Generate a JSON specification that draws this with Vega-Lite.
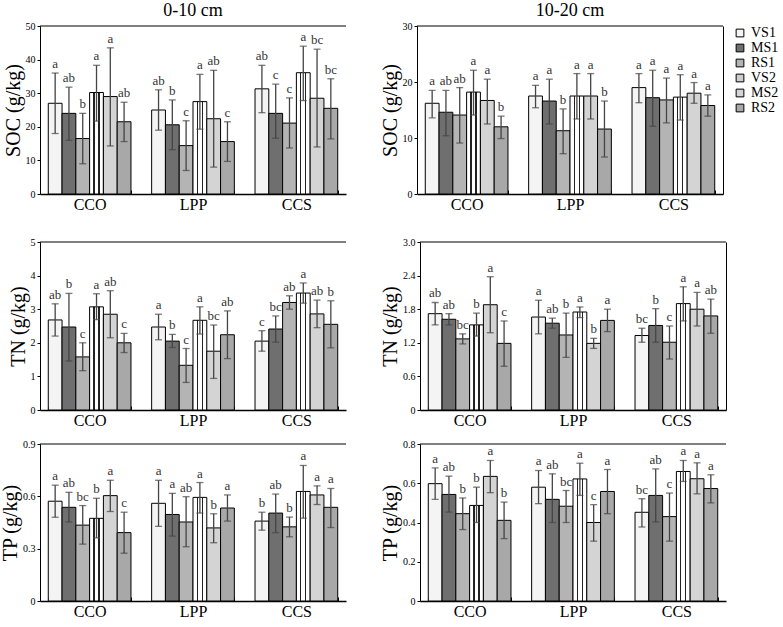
{
  "$schema": "https://vega.github.io/schema/vega-lite/v6.json",
  "padding": {"left": 0, "top": 2, "right": 0, "bottom": 0},
  "datasets": {
    "soc1": [
      {"g":"CCO","t":"VS1","m":27,"lo":18,"hi":36,"l":"a"},
      {"g":"CCO","t":"MS1","m":24,"lo":16,"hi":31.8,"l":"ab"},
      {"g":"CCO","t":"RS1","m":16.5,"lo":9,"hi":24,"l":"b"},
      {"g":"CCO","t":"VS2","m":30.2,"lo":21.7,"hi":38.3,"l":"a"},
      {"g":"CCO","t":"MS2","m":29,"lo":14.3,"hi":43.5,"l":"a"},
      {"g":"CCO","t":"RS2","m":21.5,"lo":15.6,"hi":27.3,"l":"ab"},
      {"g":"LPP","t":"VS1","m":25,"lo":19,"hi":31,"l":"ab"},
      {"g":"LPP","t":"MS1","m":20.6,"lo":13.2,"hi":28,"l":"b"},
      {"g":"LPP","t":"RS1","m":14.4,"lo":7,"hi":21.8,"l":"c"},
      {"g":"LPP","t":"VS2","m":27.5,"lo":19.3,"hi":35.6,"l":"a"},
      {"g":"LPP","t":"MS2","m":22.4,"lo":8,"hi":36.8,"l":"ab"},
      {"g":"LPP","t":"RS2","m":15.6,"lo":9.7,"hi":21.5,"l":"c"},
      {"g":"CCS","t":"VS1","m":31.3,"lo":24.2,"hi":38.3,"l":"ab"},
      {"g":"CCS","t":"MS1","m":24,"lo":16.6,"hi":32.7,"l":"c"},
      {"g":"CCS","t":"RS1","m":21.1,"lo":13.7,"hi":28.6,"l":"c"},
      {"g":"CCS","t":"VS2","m":36.1,"lo":27.8,"hi":44,"l":"a"},
      {"g":"CCS","t":"MS2","m":28.5,"lo":14,"hi":43.1,"l":"bc"},
      {"g":"CCS","t":"RS2","m":25.5,"lo":16.4,"hi":34.3,"l":"bc"}
    ],
    "soc2": [
      {"g":"CCO","t":"VS1","m":16.2,"lo":13.6,"hi":18.5,"l":"a"},
      {"g":"CCO","t":"MS1","m":14.6,"lo":10.4,"hi":18.5,"l":"ab"},
      {"g":"CCO","t":"RS1","m":14.1,"lo":9.1,"hi":19,"l":"ab"},
      {"g":"CCO","t":"VS2","m":18.2,"lo":14.1,"hi":22.1,"l":"a"},
      {"g":"CCO","t":"MS2","m":16.7,"lo":12.5,"hi":20.5,"l":"a"},
      {"g":"CCO","t":"RS2","m":12,"lo":9.9,"hi":13.9,"l":"b"},
      {"g":"LPP","t":"VS1","m":17.5,"lo":15.4,"hi":19.4,"l":"a"},
      {"g":"LPP","t":"MS1","m":16.6,"lo":12.5,"hi":20.5,"l":"a"},
      {"g":"LPP","t":"RS1","m":11.3,"lo":7.2,"hi":15.2,"l":"b"},
      {"g":"LPP","t":"VS2","m":17.5,"lo":13.4,"hi":21.5,"l":"a"},
      {"g":"LPP","t":"MS2","m":17.5,"lo":13.4,"hi":21.5,"l":"a"},
      {"g":"LPP","t":"RS2","m":11.6,"lo":6.6,"hi":16.6,"l":"b"},
      {"g":"CCS","t":"VS1","m":19,"lo":16.3,"hi":21.5,"l":"a"},
      {"g":"CCS","t":"MS1","m":17.2,"lo":12.1,"hi":22.1,"l":"a"},
      {"g":"CCS","t":"RS1","m":16.8,"lo":12.7,"hi":20.7,"l":"a"},
      {"g":"CCS","t":"VS2","m":17.3,"lo":13.2,"hi":21.3,"l":"a"},
      {"g":"CCS","t":"MS2","m":18,"lo":16.2,"hi":19.9,"l":"a"},
      {"g":"CCS","t":"RS2","m":15.8,"lo":13.9,"hi":17.7,"l":"a"}
    ],
    "tn1": [
      {"g":"CCO","t":"VS1","m":2.68,"lo":2.2,"hi":3.16,"l":"ab"},
      {"g":"CCO","t":"MS1","m":2.47,"lo":1.46,"hi":3.47,"l":"b"},
      {"g":"CCO","t":"RS1","m":1.58,"lo":1.17,"hi":2.0,"l":"c"},
      {"g":"CCO","t":"VS2","m":3.07,"lo":2.69,"hi":3.46,"l":"a"},
      {"g":"CCO","t":"MS2","m":2.85,"lo":2.15,"hi":3.55,"l":"ab"},
      {"g":"CCO","t":"RS2","m":2.0,"lo":1.71,"hi":2.28,"l":"c"},
      {"g":"LPP","t":"VS1","m":2.47,"lo":2.09,"hi":2.85,"l":"a"},
      {"g":"LPP","t":"MS1","m":2.05,"lo":1.86,"hi":2.25,"l":"b"},
      {"g":"LPP","t":"RS1","m":1.33,"lo":0.82,"hi":1.83,"l":"c"},
      {"g":"LPP","t":"VS2","m":2.67,"lo":2.26,"hi":3.07,"l":"a"},
      {"g":"LPP","t":"MS2","m":1.75,"lo":0.94,"hi":2.53,"l":"bc"},
      {"g":"LPP","t":"RS2","m":2.24,"lo":1.53,"hi":2.95,"l":"ab"},
      {"g":"CCS","t":"VS1","m":2.05,"lo":1.75,"hi":2.36,"l":"c"},
      {"g":"CCS","t":"MS1","m":2.41,"lo":2.02,"hi":2.8,"l":"bc"},
      {"g":"CCS","t":"RS1","m":3.2,"lo":3.0,"hi":3.4,"l":"ab"},
      {"g":"CCS","t":"VS2","m":3.48,"lo":3.18,"hi":3.78,"l":"a"},
      {"g":"CCS","t":"MS2","m":2.86,"lo":2.45,"hi":3.27,"l":"ab"},
      {"g":"CCS","t":"RS2","m":2.55,"lo":1.85,"hi":3.25,"l":"b"}
    ],
    "tn2": [
      {"g":"CCO","t":"VS1","m":1.72,"lo":1.52,"hi":1.92,"l":"ab"},
      {"g":"CCO","t":"MS1","m":1.62,"lo":1.52,"hi":1.72,"l":"ab"},
      {"g":"CCO","t":"RS1","m":1.27,"lo":1.18,"hi":1.36,"l":"bc"},
      {"g":"CCO","t":"VS2","m":1.52,"lo":1.32,"hi":1.73,"l":"b"},
      {"g":"CCO","t":"MS2","m":1.88,"lo":1.38,"hi":2.38,"l":"a"},
      {"g":"CCO","t":"RS2","m":1.19,"lo":0.78,"hi":1.59,"l":"c"},
      {"g":"LPP","t":"VS1","m":1.66,"lo":1.36,"hi":1.96,"l":"a"},
      {"g":"LPP","t":"MS1","m":1.55,"lo":1.46,"hi":1.64,"l":"ab"},
      {"g":"LPP","t":"RS1","m":1.34,"lo":0.94,"hi":1.73,"l":"b"},
      {"g":"LPP","t":"VS2","m":1.75,"lo":1.65,"hi":1.84,"l":"a"},
      {"g":"LPP","t":"MS2","m":1.19,"lo":1.1,"hi":1.28,"l":"b"},
      {"g":"LPP","t":"RS2","m":1.6,"lo":1.4,"hi":1.8,"l":"a"},
      {"g":"CCS","t":"VS1","m":1.33,"lo":1.21,"hi":1.46,"l":"bc"},
      {"g":"CCS","t":"MS1","m":1.51,"lo":1.21,"hi":1.81,"l":"b"},
      {"g":"CCS","t":"RS1","m":1.21,"lo":0.91,"hi":1.5,"l":"c"},
      {"g":"CCS","t":"VS2","m":1.9,"lo":1.59,"hi":2.2,"l":"a"},
      {"g":"CCS","t":"MS2","m":1.8,"lo":1.5,"hi":2.1,"l":"a"},
      {"g":"CCS","t":"RS2","m":1.68,"lo":1.37,"hi":1.98,"l":"ab"}
    ],
    "tp1": [
      {"g":"CCO","t":"VS1","m":0.572,"lo":0.48,"hi":0.664,"l":"a"},
      {"g":"CCO","t":"MS1","m":0.537,"lo":0.453,"hi":0.623,"l":"ab"},
      {"g":"CCO","t":"RS1","m":0.435,"lo":0.326,"hi":0.547,"l":"bc"},
      {"g":"CCO","t":"VS2","m":0.474,"lo":0.362,"hi":0.589,"l":"b"},
      {"g":"CCO","t":"MS2","m":0.604,"lo":0.513,"hi":0.692,"l":"a"},
      {"g":"CCO","t":"RS2","m":0.392,"lo":0.274,"hi":0.509,"l":"c"},
      {"g":"LPP","t":"VS1","m":0.56,"lo":0.428,"hi":0.692,"l":"a"},
      {"g":"LPP","t":"MS1","m":0.496,"lo":0.372,"hi":0.617,"l":"a"},
      {"g":"LPP","t":"RS1","m":0.453,"lo":0.311,"hi":0.598,"l":"ab"},
      {"g":"LPP","t":"VS2","m":0.594,"lo":0.504,"hi":0.679,"l":"a"},
      {"g":"LPP","t":"MS2","m":0.419,"lo":0.334,"hi":0.5,"l":"b"},
      {"g":"LPP","t":"RS2","m":0.533,"lo":0.458,"hi":0.608,"l":"a"},
      {"g":"CCS","t":"VS1","m":0.458,"lo":0.406,"hi":0.509,"l":"b"},
      {"g":"CCS","t":"MS1","m":0.504,"lo":0.392,"hi":0.613,"l":"ab"},
      {"g":"CCS","t":"RS1","m":0.425,"lo":0.368,"hi":0.481,"l":"b"},
      {"g":"CCS","t":"VS2","m":0.628,"lo":0.475,"hi":0.777,"l":"a"},
      {"g":"CCS","t":"MS2","m":0.608,"lo":0.553,"hi":0.66,"l":"a"},
      {"g":"CCS","t":"RS2","m":0.537,"lo":0.421,"hi":0.645,"l":"a"}
    ],
    "tp2": [
      {"g":"CCO","t":"VS1","m":0.598,"lo":0.518,"hi":0.678,"l":"a"},
      {"g":"CCO","t":"MS1","m":0.543,"lo":0.453,"hi":0.636,"l":"ab"},
      {"g":"CCO","t":"RS1","m":0.445,"lo":0.364,"hi":0.525,"l":"b"},
      {"g":"CCO","t":"VS2","m":0.487,"lo":0.4,"hi":0.58,"l":"b"},
      {"g":"CCO","t":"MS2","m":0.635,"lo":0.552,"hi":0.716,"l":"a"},
      {"g":"CCO","t":"RS2","m":0.411,"lo":0.318,"hi":0.504,"l":"b"},
      {"g":"LPP","t":"VS1","m":0.58,"lo":0.496,"hi":0.665,"l":"a"},
      {"g":"LPP","t":"MS1","m":0.518,"lo":0.4,"hi":0.648,"l":"ab"},
      {"g":"LPP","t":"RS1","m":0.483,"lo":0.4,"hi":0.563,"l":"bc"},
      {"g":"LPP","t":"VS2","m":0.622,"lo":0.538,"hi":0.702,"l":"a"},
      {"g":"LPP","t":"MS2","m":0.4,"lo":0.305,"hi":0.491,"l":"c"},
      {"g":"LPP","t":"RS2","m":0.558,"lo":0.445,"hi":0.67,"l":"a"},
      {"g":"CCS","t":"VS1","m":0.452,"lo":0.377,"hi":0.521,"l":"bc"},
      {"g":"CCS","t":"MS1","m":0.538,"lo":0.403,"hi":0.673,"l":"ab"},
      {"g":"CCS","t":"RS1","m":0.43,"lo":0.305,"hi":0.55,"l":"c"},
      {"g":"CCS","t":"VS2","m":0.66,"lo":0.609,"hi":0.716,"l":"a"},
      {"g":"CCS","t":"MS2","m":0.623,"lo":0.546,"hi":0.704,"l":"a"},
      {"g":"CCS","t":"RS2","m":0.573,"lo":0.5,"hi":0.643,"l":"a"}
    ]
  },
  "vconcat": [
    {
      "hconcat": [
        {
          "width": 306, "height": 168, "title": {"text": "0-10 cm", "fontSize": 18, "font": "Liberation Serif", "fontWeight": "normal", "offset": 1},
          "data": {"name": "soc1"},
          "layer": [
            {"data": {"values": [{}]}, "mark": {"type": "rule", "color": "black"}, "encoding": {"y": {"datum": 50, "type": "quantitative"}}},
            {"mark": {"type": "bar", "stroke": "black", "strokeWidth": 1},
             "encoding": {
               "x": {"field": "g", "type": "nominal", "sort": ["CCO","LPP","CCS"], "scale": {"paddingInner": 0.2, "paddingOuter": 0.08}, "axis": {"title": null}},
               "xOffset": {"field": "t", "type": "nominal", "sort": ["VS1","MS1","RS1","VS2","MS2","RS2"], "scale": {"paddingInner": 0, "paddingOuter": 0}},
               "y": {"field": "m", "type": "quantitative", "scale": {"domain": [0, 50], "nice": false}, "axis": {"title": "SOC (g/kg)", "values": [0,10,20,30,40,50], "tickCount": 12, "format": "d"}},
               "fill": {"field": "t", "type": "nominal", "scale": {"domain": ["VS1","MS1","RS1","VS2","MS2","RS2"], "range": ["#f4f4f4","#6f6f6f","#b4b4b4","#cdcdcd","#d4d4d4","#a8a8a8"]}, "legend": {"title": null},
                        "condition": {"test": "datum.t === 'VS2'", "value": {"gradient": "linear", "x1": 0, "y1": 0, "x2": 1, "y2": 0, "stops": [{"offset": 0, "color": "#ffffff"}, {"offset": 0.27, "color": "#ffffff"}, {"offset": 0.27, "color": "#222222"}, {"offset": 0.36, "color": "#222222"}, {"offset": 0.36, "color": "#ffffff"}, {"offset": 0.64, "color": "#ffffff"}, {"offset": 0.64, "color": "#222222"}, {"offset": 0.73, "color": "#222222"}, {"offset": 0.73, "color": "#ffffff"}, {"offset": 1, "color": "#ffffff"}]}}}
             }},
            {"mark": {"type": "rule", "color": "#444", "strokeWidth": 1.3},
             "encoding": {"x": {"field": "g", "type": "nominal", "sort": ["CCO","LPP","CCS"]}, "xOffset": {"field": "t", "type": "nominal", "sort": ["VS1","MS1","RS1","VS2","MS2","RS2"]}, "y": {"field": "lo", "type": "quantitative"}, "y2": {"field": "hi"}}},
            {"mark": {"type": "tick", "color": "#444", "size": 7, "thickness": 1.3},
             "encoding": {"x": {"field": "g", "type": "nominal", "sort": ["CCO","LPP","CCS"]}, "xOffset": {"field": "t", "type": "nominal", "sort": ["VS1","MS1","RS1","VS2","MS2","RS2"]}, "y": {"field": "hi", "type": "quantitative"}}},
            {"mark": {"type": "tick", "color": "#444", "size": 7, "thickness": 1.3},
             "encoding": {"x": {"field": "g", "type": "nominal", "sort": ["CCO","LPP","CCS"]}, "xOffset": {"field": "t", "type": "nominal", "sort": ["VS1","MS1","RS1","VS2","MS2","RS2"]}, "y": {"field": "lo", "type": "quantitative"}}},
            {"mark": {"type": "text", "baseline": "bottom", "dy": -2, "fontSize": 13, "color": "#333"},
             "encoding": {"x": {"field": "g", "type": "nominal", "sort": ["CCO","LPP","CCS"]}, "xOffset": {"field": "t", "type": "nominal", "sort": ["VS1","MS1","RS1","VS2","MS2","RS2"]}, "y": {"field": "hi", "type": "quantitative"}, "text": {"field": "l"}}}
          ]
        },
        {
          "width": 306, "height": 168, "title": {"text": "10-20 cm", "fontSize": 18, "font": "Liberation Serif", "fontWeight": "normal", "offset": 1},
          "data": {"name": "soc2"},
          "resolve": {"axis": {"y": "independent"}},
          "layer": [
            {"mark": {"type": "bar", "stroke": "black", "strokeWidth": 1},
             "encoding": {
               "x": {"field": "g", "type": "nominal", "sort": ["CCO","LPP","CCS"], "scale": {"paddingInner": 0.2, "paddingOuter": 0.08}, "axis": {"title": null}},
               "xOffset": {"field": "t", "type": "nominal", "sort": ["VS1","MS1","RS1","VS2","MS2","RS2"], "scale": {"paddingInner": 0, "paddingOuter": 0}},
               "y": {"field": "m", "type": "quantitative", "scale": {"domain": [0, 30], "nice": false}, "axis": {"title": "SOC (g/kg)", "values": [0,10,20,30], "tickCount": 12, "format": "d"}},
               "fill": {"field": "t", "type": "nominal", "scale": {"domain": ["VS1","MS1","RS1","VS2","MS2","RS2"], "range": ["#f4f4f4","#6f6f6f","#b4b4b4","#cdcdcd","#d4d4d4","#a8a8a8"]}, "legend": {"title": null},
                        "condition": {"test": "datum.t === 'VS2'", "value": {"gradient": "linear", "x1": 0, "y1": 0, "x2": 1, "y2": 0, "stops": [{"offset": 0, "color": "#ffffff"}, {"offset": 0.27, "color": "#ffffff"}, {"offset": 0.27, "color": "#222222"}, {"offset": 0.36, "color": "#222222"}, {"offset": 0.36, "color": "#ffffff"}, {"offset": 0.64, "color": "#ffffff"}, {"offset": 0.64, "color": "#222222"}, {"offset": 0.73, "color": "#222222"}, {"offset": 0.73, "color": "#ffffff"}, {"offset": 1, "color": "#ffffff"}]}}}
             }},
            {"data": {"values": [{}]}, "mark": {"type": "rule", "color": "black"}, "encoding": {"y": {"datum": 30, "type": "quantitative", "axis": {"orient": "right", "labels": false, "ticks": false, "title": null}}}},
            {"mark": {"type": "rule", "color": "#444", "strokeWidth": 1.3},
             "encoding": {"x": {"field": "g", "type": "nominal", "sort": ["CCO","LPP","CCS"]}, "xOffset": {"field": "t", "type": "nominal", "sort": ["VS1","MS1","RS1","VS2","MS2","RS2"]}, "y": {"field": "lo", "type": "quantitative", "axis": null}, "y2": {"field": "hi"}}},
            {"mark": {"type": "tick", "color": "#444", "size": 7, "thickness": 1.3},
             "encoding": {"x": {"field": "g", "type": "nominal", "sort": ["CCO","LPP","CCS"]}, "xOffset": {"field": "t", "type": "nominal", "sort": ["VS1","MS1","RS1","VS2","MS2","RS2"]}, "y": {"field": "hi", "type": "quantitative", "axis": null}}},
            {"mark": {"type": "tick", "color": "#444", "size": 7, "thickness": 1.3},
             "encoding": {"x": {"field": "g", "type": "nominal", "sort": ["CCO","LPP","CCS"]}, "xOffset": {"field": "t", "type": "nominal", "sort": ["VS1","MS1","RS1","VS2","MS2","RS2"]}, "y": {"field": "lo", "type": "quantitative", "axis": null}}},
            {"mark": {"type": "text", "baseline": "bottom", "dy": -2, "fontSize": 13, "color": "#333"},
             "encoding": {"x": {"field": "g", "type": "nominal", "sort": ["CCO","LPP","CCS"]}, "xOffset": {"field": "t", "type": "nominal", "sort": ["VS1","MS1","RS1","VS2","MS2","RS2"]}, "y": {"field": "hi", "type": "quantitative", "axis": null}, "text": {"field": "l"}}}
          ]
        }
      ]
    },
    {
      "spacing": 11,
      "vconcat": [
        {
          "hconcat": [
            {
              "width": 306, "height": 168,
              "data": {"name": "tn1"},
              "layer": [
                {"data": {"values": [{}]}, "mark": {"type": "rule", "color": "black"}, "encoding": {"y": {"datum": 5, "type": "quantitative"}}},
                {"mark": {"type": "bar", "stroke": "black", "strokeWidth": 1},
                 "encoding": {
                   "x": {"field": "g", "type": "nominal", "sort": ["CCO","LPP","CCS"], "scale": {"paddingInner": 0.2, "paddingOuter": 0.08}, "axis": {"title": null}},
                   "xOffset": {"field": "t", "type": "nominal", "sort": ["VS1","MS1","RS1","VS2","MS2","RS2"], "scale": {"paddingInner": 0, "paddingOuter": 0}},
                   "y": {"field": "m", "type": "quantitative", "scale": {"domain": [0, 5], "nice": false}, "axis": {"title": "TN (g/kg)", "values": [0,1,2,3,4,5], "tickCount": 12, "format": "d"}},
                   "fill": {"field": "t", "type": "nominal", "scale": {"domain": ["VS1","MS1","RS1","VS2","MS2","RS2"], "range": ["#f4f4f4","#6f6f6f","#b4b4b4","#cdcdcd","#d4d4d4","#a8a8a8"]}, "legend": {"title": null},
                        "condition": {"test": "datum.t === 'VS2'", "value": {"gradient": "linear", "x1": 0, "y1": 0, "x2": 1, "y2": 0, "stops": [{"offset": 0, "color": "#ffffff"}, {"offset": 0.27, "color": "#ffffff"}, {"offset": 0.27, "color": "#222222"}, {"offset": 0.36, "color": "#222222"}, {"offset": 0.36, "color": "#ffffff"}, {"offset": 0.64, "color": "#ffffff"}, {"offset": 0.64, "color": "#222222"}, {"offset": 0.73, "color": "#222222"}, {"offset": 0.73, "color": "#ffffff"}, {"offset": 1, "color": "#ffffff"}]}}}
                 }},
                {"mark": {"type": "rule", "color": "#444", "strokeWidth": 1.3},
                 "encoding": {"x": {"field": "g", "type": "nominal", "sort": ["CCO","LPP","CCS"]}, "xOffset": {"field": "t", "type": "nominal", "sort": ["VS1","MS1","RS1","VS2","MS2","RS2"]}, "y": {"field": "lo", "type": "quantitative"}, "y2": {"field": "hi"}}},
                {"mark": {"type": "tick", "color": "#444", "size": 7, "thickness": 1.3},
                 "encoding": {"x": {"field": "g", "type": "nominal", "sort": ["CCO","LPP","CCS"]}, "xOffset": {"field": "t", "type": "nominal", "sort": ["VS1","MS1","RS1","VS2","MS2","RS2"]}, "y": {"field": "hi", "type": "quantitative"}}},
                {"mark": {"type": "tick", "color": "#444", "size": 7, "thickness": 1.3},
                 "encoding": {"x": {"field": "g", "type": "nominal", "sort": ["CCO","LPP","CCS"]}, "xOffset": {"field": "t", "type": "nominal", "sort": ["VS1","MS1","RS1","VS2","MS2","RS2"]}, "y": {"field": "lo", "type": "quantitative"}}},
                {"mark": {"type": "text", "baseline": "bottom", "dy": -2, "fontSize": 13, "color": "#333"},
                 "encoding": {"x": {"field": "g", "type": "nominal", "sort": ["CCO","LPP","CCS"]}, "xOffset": {"field": "t", "type": "nominal", "sort": ["VS1","MS1","RS1","VS2","MS2","RS2"]}, "y": {"field": "hi", "type": "quantitative"}, "text": {"field": "l"}}}
              ]
            },
            {
              "width": 306, "height": 168,
              "data": {"name": "tn2"},
              "resolve": {"axis": {"y": "independent"}},
              "layer": [
                {"mark": {"type": "bar", "stroke": "black", "strokeWidth": 1},
                 "encoding": {
                   "x": {"field": "g", "type": "nominal", "sort": ["CCO","LPP","CCS"], "scale": {"paddingInner": 0.2, "paddingOuter": 0.08}, "axis": {"title": null}},
                   "xOffset": {"field": "t", "type": "nominal", "sort": ["VS1","MS1","RS1","VS2","MS2","RS2"], "scale": {"paddingInner": 0, "paddingOuter": 0}},
                   "y": {"field": "m", "type": "quantitative", "scale": {"domain": [0, 3], "nice": false}, "axis": {"title": "TN (g/kg)", "values": [0,0.6,1.2,1.8,2.4,3.0], "tickCount": 12, "labelExpr": "datum.value === 0 ? '0' : format(datum.value, '.1f')"}},
                   "fill": {"field": "t", "type": "nominal", "scale": {"domain": ["VS1","MS1","RS1","VS2","MS2","RS2"], "range": ["#f4f4f4","#6f6f6f","#b4b4b4","#cdcdcd","#d4d4d4","#a8a8a8"]}, "legend": {"title": null},
                        "condition": {"test": "datum.t === 'VS2'", "value": {"gradient": "linear", "x1": 0, "y1": 0, "x2": 1, "y2": 0, "stops": [{"offset": 0, "color": "#ffffff"}, {"offset": 0.27, "color": "#ffffff"}, {"offset": 0.27, "color": "#222222"}, {"offset": 0.36, "color": "#222222"}, {"offset": 0.36, "color": "#ffffff"}, {"offset": 0.64, "color": "#ffffff"}, {"offset": 0.64, "color": "#222222"}, {"offset": 0.73, "color": "#222222"}, {"offset": 0.73, "color": "#ffffff"}, {"offset": 1, "color": "#ffffff"}]}}}
                 }},
                {"data": {"values": [{}]}, "mark": {"type": "rule", "color": "black"}, "encoding": {"y": {"datum": 3, "type": "quantitative", "axis": {"orient": "right", "labels": false, "ticks": false, "title": null}}}},
                {"mark": {"type": "rule", "color": "#444", "strokeWidth": 1.3},
                 "encoding": {"x": {"field": "g", "type": "nominal", "sort": ["CCO","LPP","CCS"]}, "xOffset": {"field": "t", "type": "nominal", "sort": ["VS1","MS1","RS1","VS2","MS2","RS2"]}, "y": {"field": "lo", "type": "quantitative", "axis": null}, "y2": {"field": "hi"}}},
                {"mark": {"type": "tick", "color": "#444", "size": 7, "thickness": 1.3},
                 "encoding": {"x": {"field": "g", "type": "nominal", "sort": ["CCO","LPP","CCS"]}, "xOffset": {"field": "t", "type": "nominal", "sort": ["VS1","MS1","RS1","VS2","MS2","RS2"]}, "y": {"field": "hi", "type": "quantitative", "axis": null}}},
                {"mark": {"type": "tick", "color": "#444", "size": 7, "thickness": 1.3},
                 "encoding": {"x": {"field": "g", "type": "nominal", "sort": ["CCO","LPP","CCS"]}, "xOffset": {"field": "t", "type": "nominal", "sort": ["VS1","MS1","RS1","VS2","MS2","RS2"]}, "y": {"field": "lo", "type": "quantitative", "axis": null}}},
                {"mark": {"type": "text", "baseline": "bottom", "dy": -2, "fontSize": 13, "color": "#333"},
                 "encoding": {"x": {"field": "g", "type": "nominal", "sort": ["CCO","LPP","CCS"]}, "xOffset": {"field": "t", "type": "nominal", "sort": ["VS1","MS1","RS1","VS2","MS2","RS2"]}, "y": {"field": "hi", "type": "quantitative", "axis": null}, "text": {"field": "l"}}}
              ]
            }
          ]
        },
        {
          "hconcat": [
            {
              "width": 306, "height": 157,
              "data": {"name": "tp1"},
              "layer": [
                {"data": {"values": [{}]}, "mark": {"type": "rule", "color": "black"}, "encoding": {"y": {"datum": 0.9, "type": "quantitative"}}},
                {"mark": {"type": "bar", "stroke": "black", "strokeWidth": 1},
                 "encoding": {
                   "x": {"field": "g", "type": "nominal", "sort": ["CCO","LPP","CCS"], "scale": {"paddingInner": 0.2, "paddingOuter": 0.08}, "axis": {"title": null}},
                   "xOffset": {"field": "t", "type": "nominal", "sort": ["VS1","MS1","RS1","VS2","MS2","RS2"], "scale": {"paddingInner": 0, "paddingOuter": 0}},
                   "y": {"field": "m", "type": "quantitative", "scale": {"domain": [0, 0.9], "nice": false}, "axis": {"title": "TP (g/kg)", "values": [0,0.3,0.6,0.9], "tickCount": 12, "labelExpr": "datum.value === 0 ? '0' : format(datum.value, '.1f')"}},
                   "fill": {"field": "t", "type": "nominal", "scale": {"domain": ["VS1","MS1","RS1","VS2","MS2","RS2"], "range": ["#f4f4f4","#6f6f6f","#b4b4b4","#cdcdcd","#d4d4d4","#a8a8a8"]}, "legend": {"title": null},
                        "condition": {"test": "datum.t === 'VS2'", "value": {"gradient": "linear", "x1": 0, "y1": 0, "x2": 1, "y2": 0, "stops": [{"offset": 0, "color": "#ffffff"}, {"offset": 0.27, "color": "#ffffff"}, {"offset": 0.27, "color": "#222222"}, {"offset": 0.36, "color": "#222222"}, {"offset": 0.36, "color": "#ffffff"}, {"offset": 0.64, "color": "#ffffff"}, {"offset": 0.64, "color": "#222222"}, {"offset": 0.73, "color": "#222222"}, {"offset": 0.73, "color": "#ffffff"}, {"offset": 1, "color": "#ffffff"}]}}}
                 }},
                {"mark": {"type": "rule", "color": "#444", "strokeWidth": 1.3},
                 "encoding": {"x": {"field": "g", "type": "nominal", "sort": ["CCO","LPP","CCS"]}, "xOffset": {"field": "t", "type": "nominal", "sort": ["VS1","MS1","RS1","VS2","MS2","RS2"]}, "y": {"field": "lo", "type": "quantitative"}, "y2": {"field": "hi"}}},
                {"mark": {"type": "tick", "color": "#444", "size": 7, "thickness": 1.3},
                 "encoding": {"x": {"field": "g", "type": "nominal", "sort": ["CCO","LPP","CCS"]}, "xOffset": {"field": "t", "type": "nominal", "sort": ["VS1","MS1","RS1","VS2","MS2","RS2"]}, "y": {"field": "hi", "type": "quantitative"}}},
                {"mark": {"type": "tick", "color": "#444", "size": 7, "thickness": 1.3},
                 "encoding": {"x": {"field": "g", "type": "nominal", "sort": ["CCO","LPP","CCS"]}, "xOffset": {"field": "t", "type": "nominal", "sort": ["VS1","MS1","RS1","VS2","MS2","RS2"]}, "y": {"field": "lo", "type": "quantitative"}}},
                {"mark": {"type": "text", "baseline": "bottom", "dy": -2, "fontSize": 13, "color": "#333"},
                 "encoding": {"x": {"field": "g", "type": "nominal", "sort": ["CCO","LPP","CCS"]}, "xOffset": {"field": "t", "type": "nominal", "sort": ["VS1","MS1","RS1","VS2","MS2","RS2"]}, "y": {"field": "hi", "type": "quantitative"}, "text": {"field": "l"}}}
              ]
            },
            {
              "width": 306, "height": 157,
              "data": {"name": "tp2"},
              "layer": [
                {"data": {"values": [{}]}, "mark": {"type": "rule", "color": "black"}, "encoding": {"y": {"datum": 0.8, "type": "quantitative"}}},
                {"mark": {"type": "bar", "stroke": "black", "strokeWidth": 1},
                 "encoding": {
                   "x": {"field": "g", "type": "nominal", "sort": ["CCO","LPP","CCS"], "scale": {"paddingInner": 0.2, "paddingOuter": 0.08}, "axis": {"title": null}},
                   "xOffset": {"field": "t", "type": "nominal", "sort": ["VS1","MS1","RS1","VS2","MS2","RS2"], "scale": {"paddingInner": 0, "paddingOuter": 0}},
                   "y": {"field": "m", "type": "quantitative", "scale": {"domain": [0, 0.8], "nice": false}, "axis": {"title": "TP (g/kg)", "values": [0,0.2,0.4,0.6,0.8], "tickCount": 12, "labelExpr": "datum.value === 0 ? '0' : format(datum.value, '.1f')"}},
                   "fill": {"field": "t", "type": "nominal", "scale": {"domain": ["VS1","MS1","RS1","VS2","MS2","RS2"], "range": ["#f4f4f4","#6f6f6f","#b4b4b4","#cdcdcd","#d4d4d4","#a8a8a8"]}, "legend": {"title": null},
                        "condition": {"test": "datum.t === 'VS2'", "value": {"gradient": "linear", "x1": 0, "y1": 0, "x2": 1, "y2": 0, "stops": [{"offset": 0, "color": "#ffffff"}, {"offset": 0.27, "color": "#ffffff"}, {"offset": 0.27, "color": "#222222"}, {"offset": 0.36, "color": "#222222"}, {"offset": 0.36, "color": "#ffffff"}, {"offset": 0.64, "color": "#ffffff"}, {"offset": 0.64, "color": "#222222"}, {"offset": 0.73, "color": "#222222"}, {"offset": 0.73, "color": "#ffffff"}, {"offset": 1, "color": "#ffffff"}]}}}
                 }},
                {"mark": {"type": "rule", "color": "#444", "strokeWidth": 1.3},
                 "encoding": {"x": {"field": "g", "type": "nominal", "sort": ["CCO","LPP","CCS"]}, "xOffset": {"field": "t", "type": "nominal", "sort": ["VS1","MS1","RS1","VS2","MS2","RS2"]}, "y": {"field": "lo", "type": "quantitative"}, "y2": {"field": "hi"}}},
                {"mark": {"type": "tick", "color": "#444", "size": 7, "thickness": 1.3},
                 "encoding": {"x": {"field": "g", "type": "nominal", "sort": ["CCO","LPP","CCS"]}, "xOffset": {"field": "t", "type": "nominal", "sort": ["VS1","MS1","RS1","VS2","MS2","RS2"]}, "y": {"field": "hi", "type": "quantitative"}}},
                {"mark": {"type": "tick", "color": "#444", "size": 7, "thickness": 1.3},
                 "encoding": {"x": {"field": "g", "type": "nominal", "sort": ["CCO","LPP","CCS"]}, "xOffset": {"field": "t", "type": "nominal", "sort": ["VS1","MS1","RS1","VS2","MS2","RS2"]}, "y": {"field": "lo", "type": "quantitative"}}},
                {"mark": {"type": "text", "baseline": "bottom", "dy": -2, "fontSize": 13, "color": "#333"},
                 "encoding": {"x": {"field": "g", "type": "nominal", "sort": ["CCO","LPP","CCS"]}, "xOffset": {"field": "t", "type": "nominal", "sort": ["VS1","MS1","RS1","VS2","MS2","RS2"]}, "y": {"field": "hi", "type": "quantitative"}, "text": {"field": "l"}}}
              ]
            }
          ]
        }
      ]
    }
  ],
  "spacing": 25,
  "config": {
    "font": "Liberation Serif",
    "view": {"stroke": null},
    "concat": {"spacing": 33},
    "title": {"fontSize": 18, "fontWeight": "normal", "color": "black", "offset": 1, "font": "Liberation Serif"},
    "axis": {"grid": false, "domainColor": "black", "tickColor": "black", "labelColor": "black", "titleColor": "black", "titleFontWeight": "normal", "labelFont": "Liberation Serif", "titleFont": "Liberation Serif", "labelOverlap": false},
    "axisY": {"titleFontSize": 20, "labelFontSize": 10, "tickSize": 3, "labelPadding": 2, "titlePadding": 2},
    "axisX": {"labelFontSize": 16, "labelAngle": 0, "ticks": true, "tickBand": "extent", "tickSize": -4, "labelPadding": 6, "domainWidth": 1.5},
    "legend": {"orient": "right", "offset": 6, "symbolType": "square", "symbolSize": 60, "symbolStrokeColor": "black", "symbolStrokeWidth": 1, "labelFontSize": 14, "labelFont": "Liberation Serif", "labelColor": "black", "rowPadding": 1, "labelOffset": 4, "padding": 0}
  }
}
